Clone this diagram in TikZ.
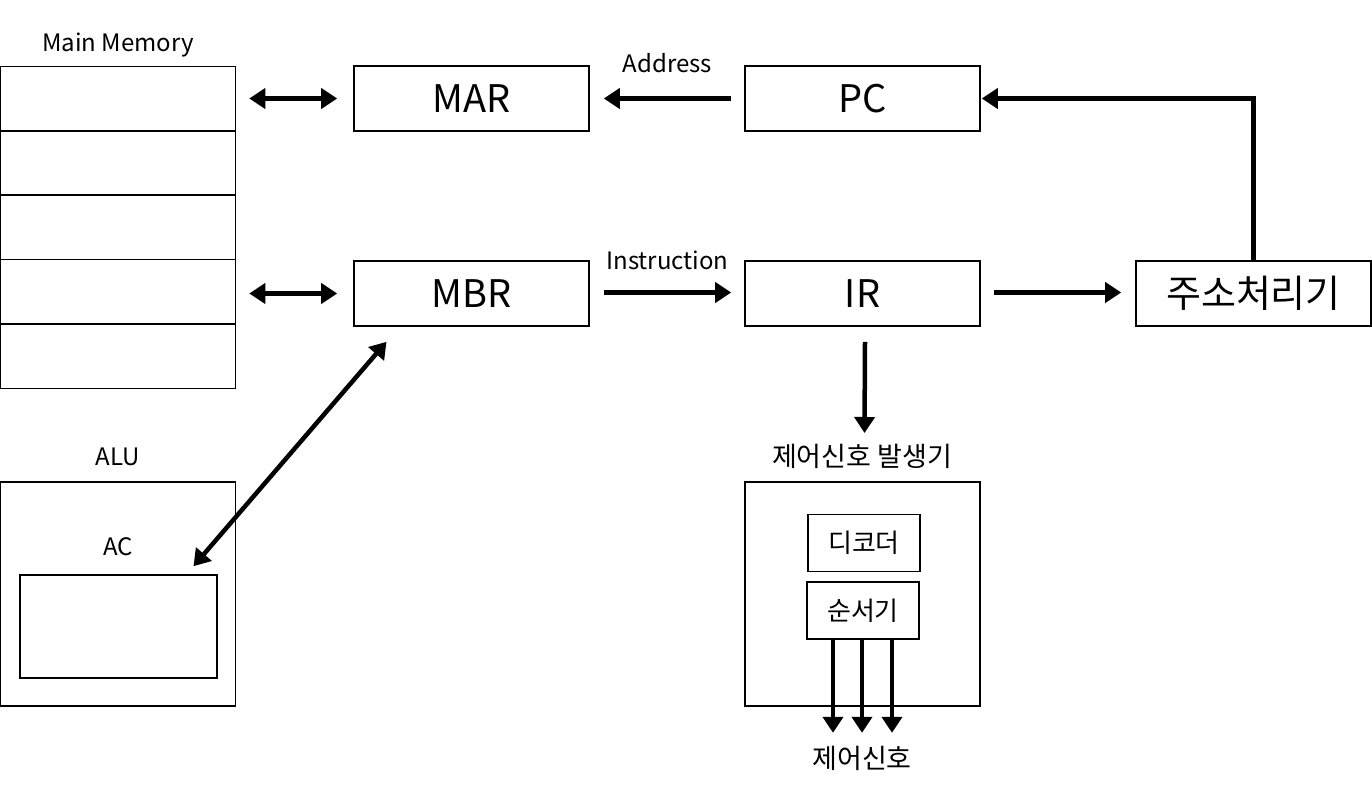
\documentclass[tikz,border=0pt]{standalone}
\usepackage{fontspec}
\setmainfont{Noto Sans CJK KR}
\usetikzlibrary{arrows.meta}
\tikzset{
	box/.style={draw, line width=1.6pt, inner sep=0pt, minimum width=235, minimum height=65},
	smallbox/.style={draw, line width=1.6pt, inner sep=0pt, minimum width=112, minimum height=57},
	lbl/.style={inner sep=0pt, font=\fontsize{24}{28}\selectfont},
	klbl/.style={inner sep=0pt, font=\fontsize{27}{32}\selectfont},
	big/.style={font=\fontsize{38}{44}\selectfont},
	arr/.style={line width=4.5pt, -{Triangle[length=16pt,width=20pt]}},
	darr/.style={line width=4.5pt, {Triangle[length=16pt,width=20pt]}-{Triangle[length=16pt,width=20pt]}}}
\begin{document}
\begin{tikzpicture}[x=1pt,y=-1pt]
	\useasboundingbox (0,0) rectangle (1372,790);

	% Main Memory
	\node[lbl] (memlbl) at (118,45) {Main Memory};
	\foreach \i in {0,...,4}
		\node[box, minimum height=64.4] (mem\i) at (118,98.5+64.4*\i) {};

	% registers
	\node[box, big] (mar) at (471.5,98.5) {MAR};
	\node[box, big] (pc) at (862.5,98.5) {PC};
	\node[box, big] (mbr) at (471.5,293.5) {MBR};
	\node[box, big] (ir) at (862.5,293.5) {IR};
	\node[box, big] (addr) at (1253.5,293.5) {주소처리기};

	% ALU
	\node[lbl] (alulbl) at (118,457) {ALU};
	\node[box, minimum height=224] (alu) at (118,594) {};
	\node[lbl] (aclbl) at (118,547) {AC};
	\node[box, minimum width=197, minimum height=103] (ac) at (118.5,626.5) {};

	% control unit
	\node[klbl] (culbl) at (862,456) {제어신호 발생기};
	\node[box, minimum height=224] (cu) at (862.5,594) {};
	\node[smallbox, font=\fontsize{26}{30}\selectfont] (dec) at (864,543) {디코더};
	\node[smallbox, font=\fontsize{26}{30}\selectfont] (seq) at (863,610.5) {순서기};
	\node[klbl] (sig) at (862,758) {제어신호};

	% connectors
	\draw[darr] ([xshift=13]mem0.east) -- ([xshift=-16]mar.west);
	\draw[darr] ([xshift=13]mem3.east |- mbr) -- ([xshift=-16]mbr.west);
	\draw[arr] ([xshift=-13]pc.west) -- node[lbl, above=23pt] {Address} ([xshift=14]mar.east);
	\draw[arr] ([xshift=14,yshift=1]mbr.east) -- node[lbl, above=20pt] {Instruction} ([xshift=-13,yshift=1]ir.west);
	\draw[arr] ([xshift=13,yshift=1]ir.east) -- ([xshift=-14,yshift=1]addr.west);
	\draw[arr] (addr.north) |- ([xshift=1]pc.east);
	\draw[arr] ([xshift=2.5,yshift=-15]ir.south) -- ([xshift=2.5]culbl.north |- 0,433);
	\draw[darr] ([xshift=-85,yshift=-15]mbr.south) -- ([xshift=75,yshift=8]ac.north);
	\foreach \dx in {-30,-1,29}
		\draw[arr] ([xshift=\dx]seq.south) -- ++(0,93);
\end{tikzpicture}
\end{document}
